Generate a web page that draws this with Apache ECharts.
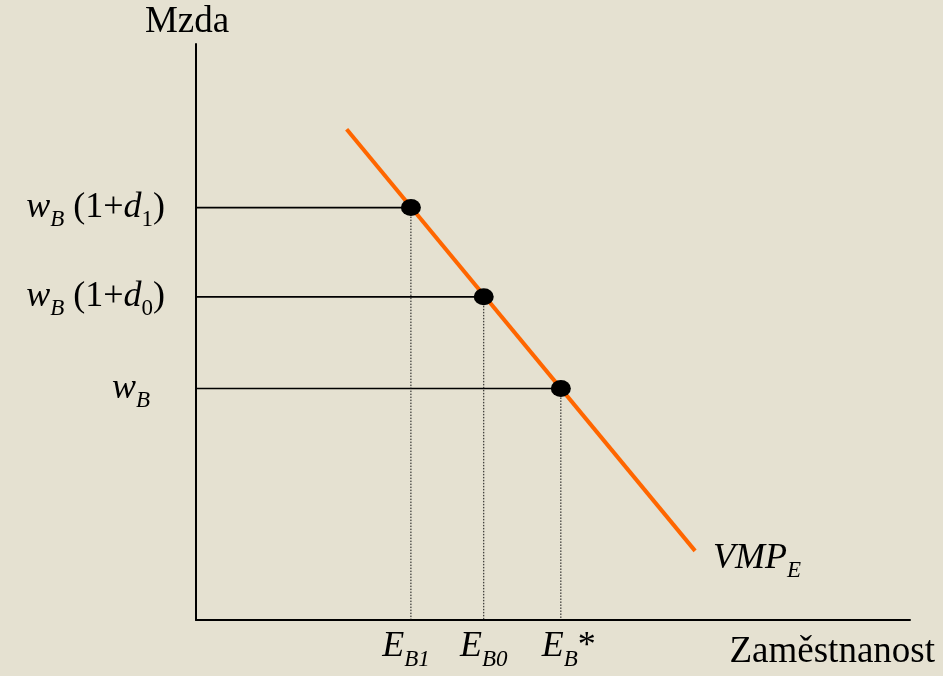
<!DOCTYPE html>
<html>
<head>
<meta charset="utf-8">
<script src="https://cdn.jsdelivr.net/npm/echarts@6/dist/echarts.min.js"></script>
<style>
html,body{margin:0;padding:0;background:#E5E1D1;}
#c{width:943px;height:676px;}
</style>
</head>
<body>
<div id="c"></div>
<script>
// ---- data ----
const vmpX = [21.1, 69.9];
const vmpY = [85.2, 12.0];
const eqX = [30.1, 40.3, 51.1];
const eqY = [71.6, 56.1, 40.2];
const yTickLabels = ['w_B(1+d_1)', 'w_B(1+d_0)', 'w_B'];
const xTickLabels = ['E_B1', 'E_B0', 'E_B*'];
const yAxisName = 'Mzda';
const xAxisName = 'Zaměstnanost';
const curveName = 'VMP_E';

const FONT = '"Liberation Serif", "DejaVu Serif", serif';
const SUBPAD = 25;

const yRich = [
  '{i|w}{si|B}{r| (1}{r|+}{i|d}{sr|1}{r|)}',
  '{i|w}{si|B}{r| (1}{r|+}{i|d}{sr|0}{r|)}',
  '{i|w}{si|B}{gap|}'
];
const xRich = [
  '{i|E}{si|B1}{gapR|}',
  '{i|E}{si|B0}',
  '{gapL|}{i|E}{si|B}{r|*}'
];

const richStyles = {
  i: {fontFamily: FONT, fontStyle: 'italic', fontSize: 36, color: '#000', lineHeight: 36},
  r: {fontFamily: FONT, fontSize: 36, color: '#000', lineHeight: 36},
  si: {fontFamily: FONT, fontStyle: 'italic', fontSize: 23, color: '#000', lineHeight: 23, padding: [SUBPAD, 0, 0, 0]},
  sr: {fontFamily: FONT, fontSize: 23, color: '#000', lineHeight: 23, padding: [SUBPAD, 0, 0, 0]},
  gap: {width: 15},
  gapR: {width: 10},
  gapL: {width: 16}
};

const hSeries = eqX.map((x, k) => ({
  type: 'line', data: [[0, eqY[k]], [x, eqY[k]]], symbol: 'none', silent: true,
  lineStyle: {color: '#000', width: 1.6}, z: 2
}));
const vSeries = eqX.map((x, k) => ({
  type: 'line', data: [[x, eqY[k]], [x, 0]], symbol: 'none', silent: true,
  lineStyle: {color: '#111', width: 1, type: [1.5, 1.5]}, z: 2
}));

const chart = echarts.init(document.getElementById('c'));
chart.setOption({
  animation: false,
  backgroundColor: '#E5E1D1',
  grid: {left: 196, right: 33, top: 44, bottom: 56},
  xAxis: {
    type: 'value', min: 0, max: 100,
    name: xAxisName, nameLocation: 'end', nameGap: 25,
    nameTextStyle: {fontFamily: FONT, fontSize: 37, color: '#000', align: 'right', verticalAlign: 'top', padding: [14, 0, 0, 0], lineHeight: 37},
    axisLine: {show: true, lineStyle: {color: '#000', width: 2}},
    axisTick: {show: false},
    splitLine: {show: false},
    axisLabel: {
      show: true, customValues: eqX, margin: 9,
      formatter: function (v) { const k = eqX.indexOf(v); return k >= 0 ? xRich[k] : ''; },
      rich: richStyles
    }
  },
  yAxis: {
    type: 'value', min: 0, max: 100,
    name: yAxisName, nameLocation: 'end', nameGap: 22,
    nameTextStyle: {fontFamily: FONT, fontSize: 37, color: '#000', align: 'center', verticalAlign: 'middle', padding: [0, 18, 0, 0], lineHeight: 37},
    axisLine: {show: true, lineStyle: {color: '#000', width: 2}},
    axisTick: {show: false},
    splitLine: {show: false},
    axisLabel: {
      show: true, customValues: eqY, margin: 31,
      formatter: function (v) { const k = eqY.indexOf(v); return k >= 0 ? yRich[k] : ''; },
      rich: richStyles
    }
  },
  series: [
    ...hSeries,
    ...vSeries,
    {
      type: 'line', name: curveName, data: vmpX.map((x, k) => [x, vmpY[k]]), symbol: 'none',
      lineStyle: {color: '#FF6600', width: 4}, z: 3,
      endLabel: {
        show: true, distance: 18, offset: [0, 8],
        formatter: '{i|VMP}{si|E}', rich: richStyles
      }
    },
    {
      type: 'scatter', data: eqX.map((x, k) => [x, eqY[k]]), symbol: 'circle', symbolSize: [20, 17],
      itemStyle: {color: '#000', opacity: 1}, z: 5
    }
  ]
});
</script>
</body>
</html>
